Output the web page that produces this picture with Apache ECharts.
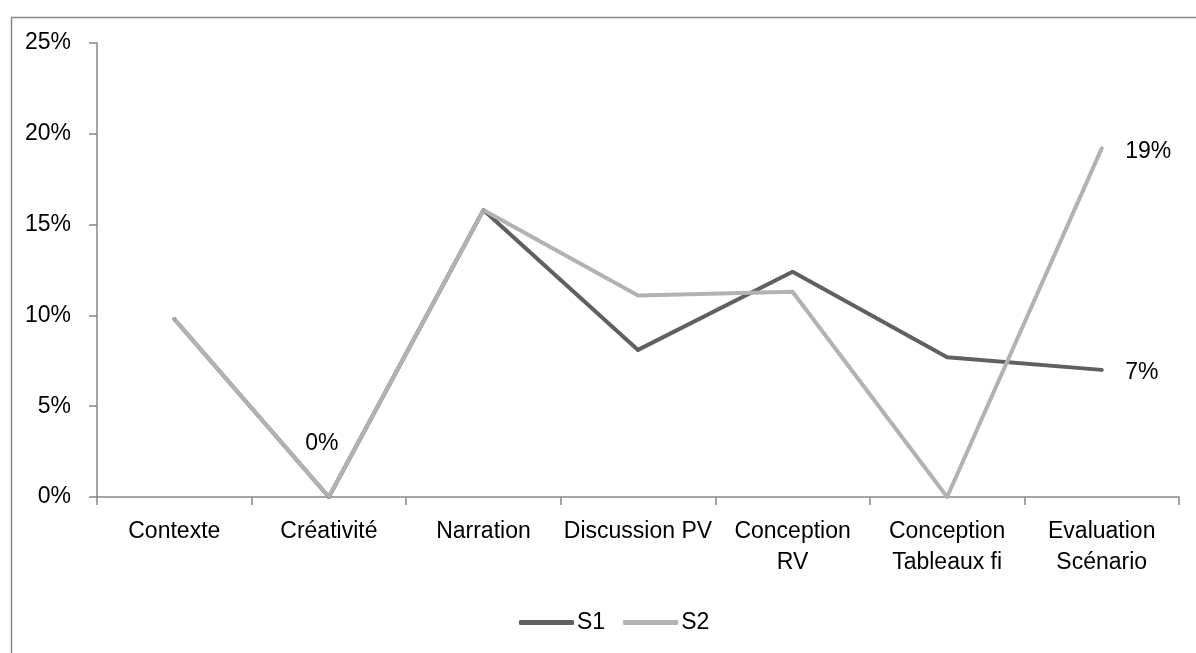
<!DOCTYPE html>
<html>
<head>
<meta charset="utf-8">
<script src="https://cdn.jsdelivr.net/npm/echarts@6/dist/echarts.min.js"></script>
<style>
html,body{margin:0;padding:0;background:#fff;}
#chart{width:1196px;height:653px;}
</style>
</head>
<body>
<div id="chart"></div>
<script>
const categories = ['Contexte', 'Créativité', 'Narration', 'Discussion PV', 'Conception\nRV', 'Conception\nTableaux fi', 'Evaluation\nScénario'];
const s1Values = [9.8, 0, 15.8, 8.1, 12.4, 7.7, 7.0];
const s2Values = [9.8, 0, 15.8, 11.1, 11.3, 0, 19.2];
const yTicks = { min: 0, max: 25, interval: 5 };

const FONT = 'Liberation Sans';
const FS = 23;
const C1 = '#606060';
const C2 = '#b2b2b2';
const chart = echarts.init(document.getElementById('chart'));

const pct = p => Math.round(p.value) + '%';

const s1Data = s1Values.map((v, i) => {
  if (i === 6) {
    return { value: v, label: { show: true, position: 'right', distance: 22, offset: [0, 3],
      formatter: pct, color: '#000', fontSize: FS, fontFamily: FONT } };
  }
  return v;
});

const s2Data = s2Values.map((v, i) => {
  if (i === 1) {
    return { value: v, label: { show: true, position: 'top', distance: 40, offset: [-7, 0],
      formatter: pct, color: '#000', fontSize: FS, fontFamily: FONT } };
  }
  if (i === 6) {
    return { value: v, label: { show: true, position: 'right', distance: 22, offset: [0, 3],
      formatter: pct, color: '#000', fontSize: FS, fontFamily: FONT } };
  }
  return v;
});

chart.setOption({
  animation: false,
  backgroundColor: '#fff',
  textStyle: { fontFamily: FONT },
  graphic: [{
    type: 'rect', left: 9, top: 15, z: -10,
    shape: { width: 1300, height: 800 },
    style: { fill: 'none', stroke: '#8a8a8a', lineWidth: 1.5 }
  }],
  grid: { left: 97, right: 17, top: 43, bottom: 156, containLabel: false },
  legend: {
    top: 606, left: 514,
    itemWidth: 55, itemHeight: 5, itemGap: 18, icon: 'roundRect',
    textStyle: { color: '#000', fontSize: FS, fontFamily: FONT, padding: [0, 0, 0, -2] },
    data: [
      { name: 'S1', itemStyle: { color: C1, opacity: 1 } },
      { name: 'S2', itemStyle: { color: C2, opacity: 1 } }
    ]
  },
  xAxis: {
    type: 'category',
    data: categories,
    boundaryGap: true,
    axisLine: { lineStyle: { color: '#868686', width: 1.5 } },
    axisTick: { show: true, length: 8, lineStyle: { color: '#868686', width: 1.5 } },
    axisLabel: { color: '#000', fontSize: FS, fontFamily: FONT, lineHeight: 31, margin: 19, interval: 0 },
    splitLine: { show: false }
  },
  yAxis: {
    type: 'value',
    min: yTicks.min, max: yTicks.max, interval: yTicks.interval,
    axisLine: { show: true, lineStyle: { color: '#868686', width: 1.5 } },
    axisTick: { show: true, length: 8, lineStyle: { color: '#868686', width: 1.5 } },
    axisLabel: { color: '#000', fontSize: FS, fontFamily: FONT, margin: 26, formatter: '{value}%' },
    splitLine: { show: false }
  },
  series: [
    {
      name: 'S1', type: 'line', data: s1Data,
      symbol: 'circle', symbolSize: 3, showSymbol: true,
      itemStyle: { color: C1 },
      color: C1,
      lineStyle: { color: C1, width: 4, cap: 'round', join: 'round' }
    },
    {
      name: 'S2', type: 'line', data: s2Data,
      symbol: 'circle', symbolSize: 3, showSymbol: true,
      itemStyle: { color: C2 },
      color: C2,
      lineStyle: { color: C2, width: 4, cap: 'round', join: 'round' }
    }
  ]
});
</script>
</body>
</html>
